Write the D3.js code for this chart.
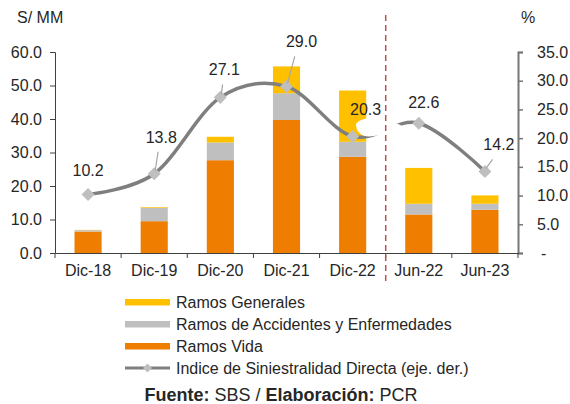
<!DOCTYPE html>
<html>
<head>
<meta charset="utf-8">
<script src="https://cdn.jsdelivr.net/npm/d3@7"></script>
<style>
  body { margin: 0; background: #fff; }
  text { font-family: "Liberation Sans", Arial, sans-serif; fill: #262626; }
</style>
</head>
<body>
<script>
// data (S/ MM and %)
var periods = ["Dic-18", "Dic-19", "Dic-20", "Dic-21", "Dic-22", "Jun-22", "Jun-23"];
var ramosVida = [6.4, 9.5, 27.7, 39.7, 28.7, 11.5, 12.9];
var ramosAccidentes = [0.4, 4.0, 5.3, 8.0, 4.5, 3.2, 1.8];
var ramosGenerales = [0.1, 0.2, 1.7, 8.0, 15.3, 10.7, 2.5];
var siniestralidad = [10.2, 13.8, 27.1, 29.0, 20.3, 22.6, 14.2];
var leftTicks = [0, 10, 20, 30, 40, 50, 60];
var rightTicks = [0, 5, 10, 15, 20, 25, 30, 35];

// label offsets (dx, dy from point) for the line labels
var labelOffsets = [[0, -18], [7, -31], [4, -22], [15, -39], [13, -21], [5, -15], [14, -21]];
var leaders = [false, true, true, true, false, false, true];

var width = 570, height = 404;
var plotLeft = 55, plotRight = 518, plotTop = 52, plotBottom = 253;
var fontSize = "16px";

var colors = { vida: "#EE7D00", acc: "#BFBFBF", gen: "#FFC000" };

var svg = d3.select("body").append("svg")
    .attr("width", width)
    .attr("height", height);

var x = d3.scaleBand().domain(periods).range([plotLeft, plotRight]).paddingInner(0).paddingOuter(0);
var yL = d3.scaleLinear().domain([0, 60]).range([plotBottom, plotTop]);
var yR = d3.scaleLinear().domain([0, 35]).range([plotBottom, plotTop]);

var barW = x.bandwidth() * 0.41;

// stacked bars
var rows = periods.map(function(p, i) {
    return { period: p, vida: ramosVida[i], acc: ramosAccidentes[i], gen: ramosGenerales[i] };
});
var stack = d3.stack().keys(["vida", "acc", "gen"])(rows);

svg.append("g").selectAll("g")
    .data(stack)
    .enter().append("g")
    .attr("fill", function(d) { return colors[d.key]; })
    .selectAll("rect")
    .data(function(d) { return d; })
    .enter().append("rect")
    .attr("x", function(d) { return x(d.data.period) + (x.bandwidth() - barW) / 2; })
    .attr("width", barW)
    .attr("y", function(d) { return yL(d[1]); })
    .attr("height", function(d) { return yL(d[0]) - yL(d[1]); });

// left axis
var axL = svg.append("g")
    .attr("transform", "translate(" + plotLeft + ",0)")
    .call(d3.axisLeft(yL).tickValues(leftTicks).tickFormat(d3.format(".1f")).tickSize(5).tickPadding(8));
axL.select(".domain").attr("stroke", "#404040");
axL.selectAll(".tick line").attr("stroke", "#404040");
axL.selectAll("text").style("font-size", fontSize).style("font-family", "Liberation Sans, Arial").attr("fill", "#262626");

// right axis
var axR = svg.append("g")
    .attr("transform", "translate(" + plotRight + ",0)")
    .call(d3.axisRight(yR).tickValues(rightTicks)
        .tickFormat(function(d) { return d === 0 ? "-" : d3.format(".1f")(d); })
        .tickSize(5).tickPadding(14));
axR.select(".domain").attr("stroke", "#767676").attr("stroke-width", 2);
axR.selectAll(".tick line").attr("stroke", "#767676").attr("stroke-width", 1.5);
axR.selectAll("text").style("font-size", fontSize).style("font-family", "Liberation Sans, Arial").attr("fill", "#262626");
axR.selectAll(".tick").filter(function(d) { return d === 0; }).select("text").attr("dx", 4);

// bottom axis
var axB = svg.append("g")
    .attr("transform", "translate(0," + plotBottom + ")")
    .call(d3.axisBottom(x).tickSize(0).tickPadding(12));
axB.select(".domain").attr("stroke", "#404040");
axB.selectAll("text").style("font-size", fontSize).style("font-family", "Liberation Sans, Arial").attr("fill", "#262626");
svg.append("g").selectAll("line")
    .data(periods.concat(["end"]))
    .enter().append("line")
    .attr("x1", function(d, i) { return plotLeft + i * x.bandwidth(); })
    .attr("x2", function(d, i) { return plotLeft + i * x.bandwidth(); })
    .attr("y1", plotBottom)
    .attr("y2", plotBottom + 5)
    .attr("stroke", "#404040");

// axis titles
svg.append("text").attr("x", 17).attr("y", 23).style("font-size", fontSize).text("S/ MM");
svg.append("text").attr("x", 521).attr("y", 23).style("font-size", fontSize).text("%");

// line
var pts = periods.map(function(p, i) {
    return [x(p) + x.bandwidth() / 2, yR(siniestralidad[i])];
});
var line = d3.line().curve(d3.curveCatmullRom.alpha(0));
svg.append("path")
    .attr("d", line(pts))
    .attr("fill", "none")
    .attr("stroke", "#7F7F7F")
    .attr("stroke-width", 3.5);

svg.append("g").selectAll("path")
    .data(pts)
    .enter().append("path")
    .attr("transform", function(d) { return "translate(" + d[0] + "," + d[1] + ") rotate(45)"; })
    .attr("d", d3.symbol().type(d3.symbolSquare).size(85))
    .attr("fill", "#BFBFBF");

// leader lines
svg.append("g").selectAll("line")
    .data(pts.filter(function(d, i) { return leaders[i]; }))
    .enter().append("line")
    .attr("x1", function(d) {
        var i = pts.indexOf(d);
        return d[0] + labelOffsets[i][0] * 0.55;
    })
    .attr("y1", function(d) {
        var i = pts.indexOf(d);
        return d[1] + labelOffsets[i][1] + 9;
    })
    .attr("x2", function(d) { return d[0] + 1; })
    .attr("y2", function(d) { return d[1] - 3; })
    .attr("stroke", "#A6A6A6")
    .attr("stroke-width", 1.2);

// white label box hiding part of the line (as in the source)
svg.append("path")
    .attr("d", "M356,124 C360,118 372,117 382,119 C392,121 400,124 405,128 C398,132 386,134 374,136 C364,138 356,134 356,124 Z")
    .attr("fill", "#fff");

// labels
svg.append("g").selectAll("text")
    .data(siniestralidad)
    .enter().append("text")
    .attr("x", function(d, i) { return pts[i][0] + labelOffsets[i][0]; })
    .attr("y", function(d, i) { return pts[i][1] + labelOffsets[i][1]; })
    .attr("text-anchor", "middle")
    .style("font-size", fontSize)
    .attr("fill", "#404040")
    .text(function(d) { return d3.format(".1f")(d); });

// divider
var divX = x("Jun-22");
svg.append("line")
    .attr("x1", divX).attr("x2", divX)
    .attr("y1", 15).attr("y2", 285)
    .attr("stroke", "#C0504D")
    .attr("stroke-width", 1.5)
    .attr("stroke-dasharray", "6,4");

// legend
var legendItems = [
    { label: "Ramos Generales", color: colors.gen, type: "bar" },
    { label: "Ramos de Accidentes y Enfermedades", color: colors.acc, type: "bar" },
    { label: "Ramos Vida", color: colors.vida, type: "bar" },
    { label: "Indice de Siniestralidad Directa (eje. der.)", color: "#7F7F7F", type: "line" }
];
var lg = svg.append("g").selectAll("g")
    .data(legendItems)
    .enter().append("g")
    .attr("transform", function(d, i) { return "translate(125," + (302 + i * 22) + ")"; });
lg.filter(function(d) { return d.type === "bar"; })
    .append("rect")
    .attr("x", 0).attr("y", -3).attr("width", 45).attr("height", 6.5)
    .attr("fill", function(d) { return d.color; });
lg.filter(function(d) { return d.type === "line"; })
    .append("line")
    .attr("x1", 0).attr("x2", 45).attr("y1", 0).attr("y2", 0)
    .attr("stroke", "#7F7F7F").attr("stroke-width", 3);
lg.filter(function(d) { return d.type === "line"; })
    .append("path")
    .attr("transform", "translate(22.5,0) rotate(45)")
    .attr("d", d3.symbol().type(d3.symbolSquare).size(40))
    .attr("fill", "#BFBFBF");
lg.append("text")
    .attr("x", 51).attr("y", 5.5)
    .style("font-size", fontSize)
    .text(function(d) { return d.label; });

// source
var src = svg.append("text")
    .attr("x", 281).attr("y", 401)
    .attr("text-anchor", "middle")
    .style("font-size", "18px");
src.append("tspan").style("font-weight", "bold").text("Fuente:");
src.append("tspan").text(" SBS / ");
src.append("tspan").style("font-weight", "bold").text("Elaboración:");
src.append("tspan").text(" PCR");
</script>
</body>
</html>
